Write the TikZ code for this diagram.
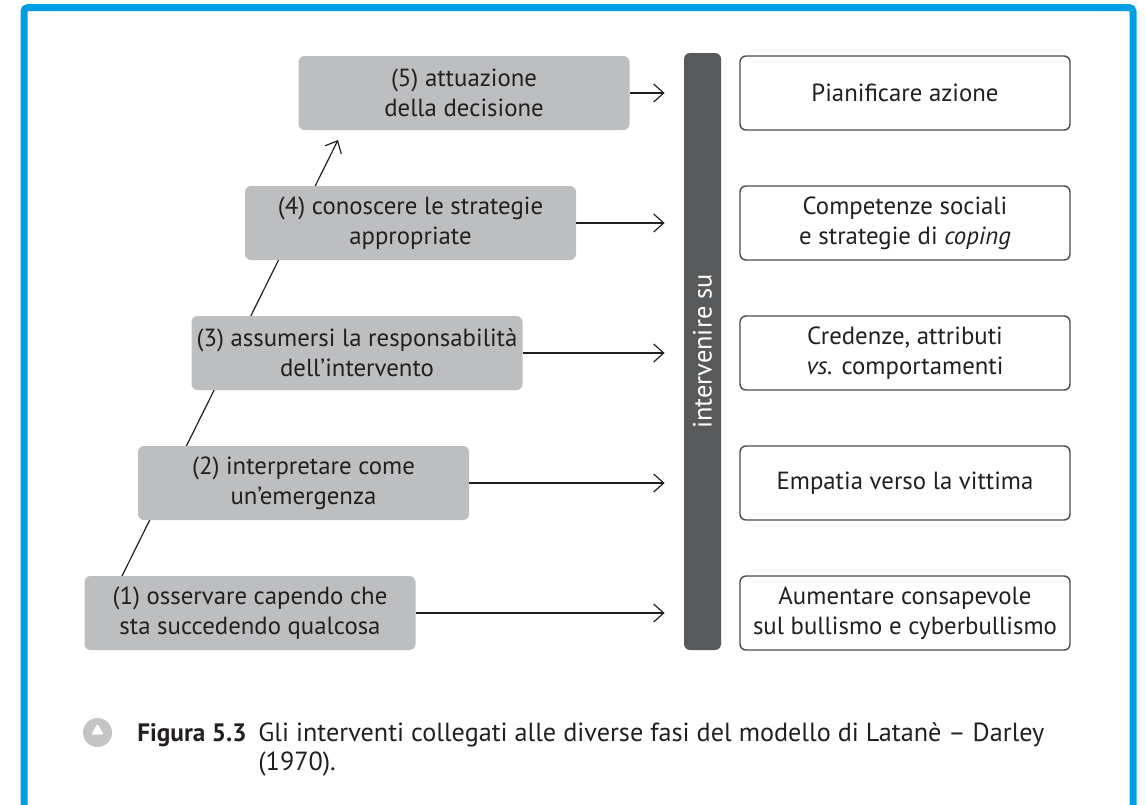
\documentclass[tikz,border=0pt]{standalone}
\usepackage{fontspec}
\setmainfont{PT Sans}
\usetikzlibrary{positioning,arrows.meta,backgrounds,shapes.geometric}

\definecolor{frameblue}{HTML}{009FE3}
\definecolor{stagegray}{HTML}{BDBEC0}
\definecolor{bardark}{HTML}{58595B}
\definecolor{boxline}{HTML}{4A4A4C}
\definecolor{inkdark}{HTML}{231F20}
\definecolor{icongray}{HTML}{C4C4C4}

\begin{document}
\begin{tikzpicture}[
        x=0.5pt, y=-0.5pt,
        stage/.style={rectangle, rounded corners=3pt, fill=stagegray, minimum width=165.5pt, minimum height=37pt, inner sep=0pt, outer sep=0pt, align=center, text=inkdark, font=\fontsize{12.4}{15}\selectfont},
        action/.style={rectangle, rounded corners=3pt, draw=boxline, line width=0.7pt, fill=white, minimum width=165pt, minimum height=37pt, inner sep=0pt, outer sep=0pt, align=center, text=inkdark, font=\fontsize{12.4}{15}\selectfont},
        arrow/.style={-{Straight Barb[length=5pt,width=9pt]}, line width=0.6pt, draw=inkdark}
    ]
        \clip (0,0) rectangle (1146,804);

        % Frame
        \draw[frameblue, line width=3.5pt, rounded corners=2pt] (24,7.5) rectangle (1133,840);

        % Stages of the model
        \node[stage] (s5) at (464,93) {(5) attuazione\\della decisione};
        \node[stage, below=28pt of s5, xshift=-26.75pt] (s4) {(4) conoscere le strategie\\appropriate};
        \node[stage, below=28pt of s4, xshift=-26.75pt] (s3) {(3) assumersi la responsabilità\\dell’intervento};
        \node[stage, below=28pt of s3, xshift=-26.75pt] (s2) {(2) interpretare come\\un’emergenza};
        \node[stage, below=28pt of s2, xshift=-26.75pt] (s1) {(1) osservare capendo che\\sta succedendo qualcosa};

        % Central bar
        \node[rectangle, rounded corners=3pt, fill=bardark, text=white, minimum width=18.5pt, minimum height=298.5pt, inner sep=0pt, font=\fontsize{13.2}{15}\selectfont] (bar) at (702.5,351.5) {\rotatebox{90}{intervenire su}};

        % Interventions
        \node[action] (a5) at (905,93) {Pianificare azione};
        \node[action, below=28pt of a5] (a4) {Competenze sociali\\e strategie di \textit{coping}};
        \node[action, below=28pt of a4] (a3) {Credenze, attributi\\\textit{vs.} comportamenti};
        \node[action, below=28pt of a3] (a2) {Empatia verso la vittima};
        \node[action, below=28pt of a2] (a1) {Aumentare consapevole\\sul bullismo e cyberbullismo};

        % Climbing line behind the stages
        \coordinate (climbstart) at (122,576);
        \coordinate (climbend) at (338,140);
        \begin{pgfonlayer}{background}
            \draw[arrow] (climbstart) -- (climbend);
        \end{pgfonlayer}

        % Arrows to the bar
        \foreach \i in {1,...,5}
            \draw[arrow, shorten >=9.5pt] (s\i.east) -- (s\i.east -| bar.west);

        % Caption
        \node[circle, fill=icongray, minimum size=14.5pt, inner sep=0pt] (icon) at (97.5,732.5) {};
        \node[regular polygon, regular polygon sides=3, fill=white, rounded corners=0.8pt, minimum size=7.3pt, inner sep=0pt] (icontri) at (97.5,731) {};
        \node[anchor=base west, inner sep=0pt, text=inkdark, font=\fontsize{12.6}{15}\selectfont\bfseries] (fignum) at (137,741) {Figura 5.3};
        \node[anchor=base west, inner sep=0pt, align=left, text=inkdark, font=\fontsize{13.1}{14.75}\selectfont] (captext) at (258,770.5) {Gli interventi collegati alle diverse fasi del modello di Latanè – Darley\\(1970).};
    \end{tikzpicture}
\end{document}
